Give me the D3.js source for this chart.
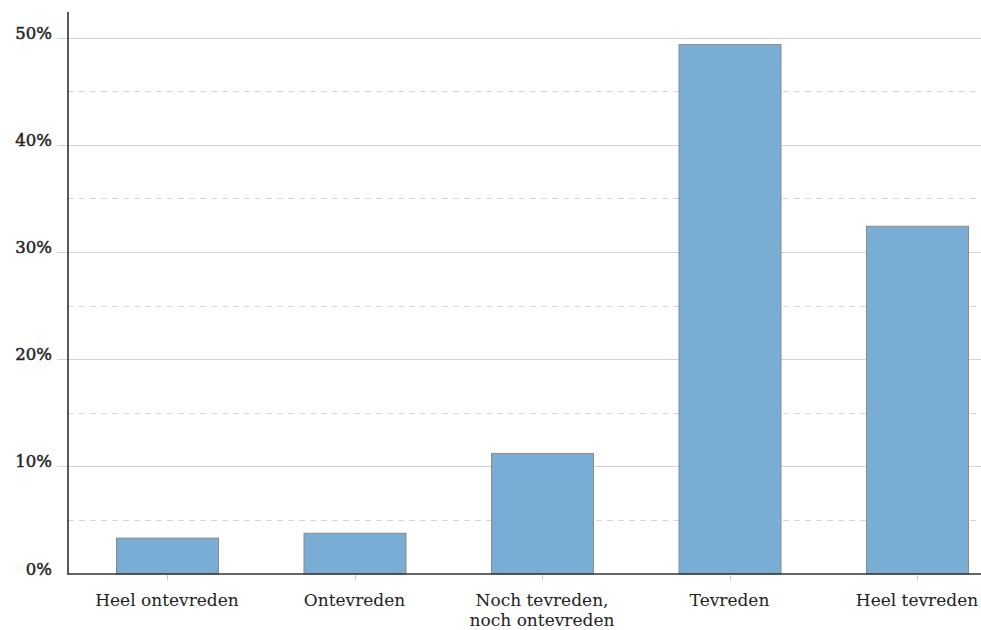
<!DOCTYPE html>
<html><head><meta charset="utf-8">
<script src="https://cdn.jsdelivr.net/npm/d3@7"></script>
<style>
html,body{margin:0;padding:0;background:#fff;}
svg{display:block;font-family:"DejaVu Serif",serif;}
</style></head>
<body>
<svg id="chart" width="981" height="630"></svg>
<script>
const categories = ["Heel ontevreden", "Ontevreden", "Noch tevreden,|noch ontevreden", "Tevreden", "Heel tevreden"];
const values = [3.35, 3.8, 11.25, 49.4, 32.45];
const majorTicks = [0, 10, 20, 30, 40, 50];
const minorTicks = [5, 15, 25, 35, 45];

const svg = d3.select("#chart");
const axisX = 68, right = 981, baseY = 573.5, topY = 12;
const y = d3.scaleLinear().domain([0, 50]).range([baseY, 37.7]);
const x = d3.scaleBand().domain(categories).range([68, 1016]).paddingInner(0.456).paddingOuter(0.256);

// minor dashed gridlines
svg.append("g").selectAll("line").data(minorTicks).join("line")
  .attr("x1", axisX).attr("x2", right)
  .attr("y1", d => Math.round(y(d)) + 0.5).attr("y2", d => Math.round(y(d)) + 0.5)
  .attr("stroke", "#d6d6d6").attr("stroke-width", 1).attr("stroke-dasharray", "6,5");

// major gridlines with left ticks
svg.append("g").selectAll("line").data(majorTicks.filter(d => d > 0)).join("line")
  .attr("x1", 57).attr("x2", right)
  .attr("y1", d => Math.round(y(d)) + 0.5).attr("y2", d => Math.round(y(d)) + 0.5)
  .attr("stroke", "#d3d3d3").attr("stroke-width", 1);

// y labels
svg.append("g").selectAll("text").data(majorTicks).join("text")
  .attr("x", 52).attr("y", d => y(d) + 1)
  .attr("text-anchor", "end").attr("font-size", 16.5)
  .attr("fill", "#262626").attr("stroke", "#262626").attr("stroke-width", 0.5)
  .text(d => d + "%");

// bars
svg.append("g").selectAll("rect").data(values).join("rect")
  .attr("x", (d, i) => x(categories[i]) + 0.5)
  .attr("y", d => y(d) + 0.5)
  .attr("width", x.bandwidth())
  .attr("height", d => baseY - y(d))
  .attr("fill", "#7aadd4").attr("stroke", "#8a8a8a").attr("stroke-width", 1);

// x tick marks
svg.append("g").selectAll("line").data(categories).join("line")
  .attr("x1", d => Math.round(x(d) + x.bandwidth() / 2) + 0.5)
  .attr("x2", d => Math.round(x(d) + x.bandwidth() / 2) + 0.5)
  .attr("y1", baseY + 1).attr("y2", baseY + 7)
  .attr("stroke", "#ccc");

// x labels
const xl = svg.append("g").selectAll("text").data(categories).join("text")
  .attr("x", d => x(d) + x.bandwidth() / 2).attr("y", 606)
  .attr("text-anchor", "middle").attr("font-size", 17).attr("fill", "#222");
xl.each(function(d) {
  const parts = d.split("|");
  const t = d3.select(this);
  parts.forEach((p, i) => t.append("tspan").attr("x", t.attr("x")).attr("dy", i === 0 ? 0 : 19.5).text(p));
});

// axes lines
svg.append("line").attr("x1", axisX).attr("x2", axisX).attr("y1", topY).attr("y2", baseY + 1)
  .attr("stroke", "#222").attr("stroke-width", 1.5);
svg.append("line").attr("x1", axisX - 0.75).attr("x2", right).attr("y1", baseY + 0.5).attr("y2", baseY + 0.5)
  .attr("stroke", "#333").attr("stroke-width", 1.5);
</script>
</body></html>
